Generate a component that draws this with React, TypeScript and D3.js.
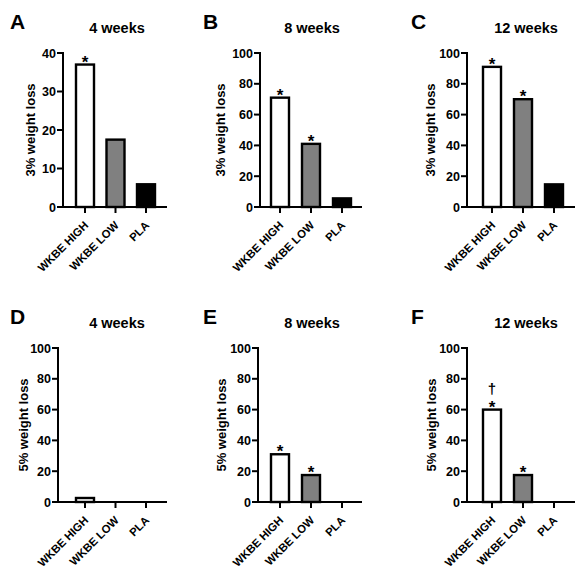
import * as d3 from "d3";

// Weight loss responder rates (%)
const categories = ["WKBE HIGH", "WKBE LOW", "PLA"];
const barFills = ["#ffffff", "#808080", "#000000"];

const loss3Week4 = [37, 17.5, 5.9];
const loss3Week8 = [71, 41, 5.6];
const loss3Week12 = [91, 70, 14.7];
const loss5Week4 = [2.6, 0, 0];
const loss5Week8 = [31, 17.5, 0];
const loss5Week12 = [60, 17.5, 0];

// significance marks per bar
const marks3Week4 = ["*", "", ""];
const marks3Week8 = ["*", "*", ""];
const marks3Week12 = ["*", "*", ""];
const marks5Week4 = ["", "", ""];
const marks5Week8 = ["*", "*", ""];
const marks5Week12 = ["†*", "*", ""];

const titles = ["4 weeks", "8 weeks", "12 weeks"];
const letters = ["A", "B", "C", "D", "E", "F"];
const yLabels = ["3% weight loss", "5% weight loss"];

const FONT = "'Liberation Sans', Arial, sans-serif";

interface Panel {
  letter: string;
  title: string;
  yLabel: string;
  values: number[];
  marks: string[];
  yMax: number;
  axisX: number;
  xEnd: number;
  tick0: number;
  tick2: number;
  yTop: number;
  yBottom: number;
  letterX: number;
  titleX: number;
  yLabelX: number;
}

const rows = [
  { top: 53, bottom: 207 },
  { top: 348, bottom: 502 },
];

const cols = [
  { tick0: 85, tick2: 146, xEnd: 167, letterX: 10, titleX: 117 },
  { tick0: 280, tick2: 342, xEnd: 362, letterX: 203, titleX: 312 },
  { tick0: 492, tick2: 554, xEnd: 575, letterX: 411, titleX: 526 },
];

const axisXs = [63, 260, 467, 58, 258, 467];
const yLabelXs = [32, 222, 432, 25, 223, 433];

const series = [loss3Week4, loss3Week8, loss3Week12, loss5Week4, loss5Week8, loss5Week12];
const marks = [marks3Week4, marks3Week8, marks3Week12, marks5Week4, marks5Week8, marks5Week12];
const yMaxes = [40, 100, 100, 100, 100, 100];

const panels: Panel[] = series.map((values, i) => {
  const r = rows[Math.floor(i / 3)];
  const c = cols[i % 3];
  return {
    letter: letters[i],
    title: titles[i % 3],
    yLabel: yLabels[Math.floor(i / 3)],
    values,
    marks: marks[i],
    yMax: yMaxes[i],
    axisX: axisXs[i],
    xEnd: c.xEnd,
    tick0: c.tick0,
    tick2: c.tick2,
    yTop: r.top,
    yBottom: r.bottom,
    letterX: c.letterX,
    titleX: c.titleX,
    yLabelX: yLabelXs[i],
  };
});

function BarPanel({ p }: { p: Panel }) {
  const x = d3.scalePoint<string>().domain(categories).range([p.tick0, p.tick2]);
  const y = d3.scaleLinear().domain([0, p.yMax]).range([p.yBottom, p.yTop]);
  const barW = 18;
  const ticks = y.ticks(5);

  return (
    <g fontFamily={FONT} fontWeight="bold">
      <text x={p.letterX} y={p.yTop - 24} fontSize={21} fill="#000">{p.letter}</text>
      <text x={p.titleX} y={p.yTop - 20} fontSize={14.5} textAnchor="middle" fill="#000">{p.title}</text>
      <text
        transform={`translate(${p.yLabelX},${(p.yTop + p.yBottom) / 2}) rotate(-90)`}
        textAnchor="middle"
        dominantBaseline="middle"
        fontSize={13}
        fill="#000"
      >
        {p.yLabel}
      </text>

      {/* bars */}
      {categories.map((cat, i) => {
        const v = p.values[i];
        if (v <= 0) return null;
        const top = y(v);
        return (
          <rect
            key={cat}
            x={(x(cat) as number) - barW / 2}
            y={top}
            width={barW}
            height={p.yBottom - top}
            fill={barFills[i]}
            stroke="#000"
            strokeWidth={2.4}
          />
        );
      })}

      {/* significance marks */}
      {categories.map((cat, i) => {
        const m = p.marks[i];
        if (!m) return null;
        const top = y(p.values[i]);
        const cx = x(cat) as number;
        const hasDagger = m.includes("†");
        return (
          <g key={`m-${cat}`}>
            <text x={cx} y={top + 3} fontSize={17} textAnchor="middle" fill="#000">*</text>
            {hasDagger && (
              <text x={cx} y={top - 16} fontSize={15} textAnchor="middle" fill="#000">†</text>
            )}
          </g>
        );
      })}

      {/* y axis */}
      <line x1={p.axisX} x2={p.axisX} y1={p.yTop - 1} y2={p.yBottom + 1} stroke="#000" strokeWidth={2} />
      {ticks.map((t) => (
        <g key={`yt-${t}`}>
          <line x1={p.axisX - 6} x2={p.axisX} y1={y(t)} y2={y(t)} stroke="#000" strokeWidth={2} />
          <text x={p.axisX - 7} y={y(t)} dy="0.36em" textAnchor="end" fontSize={12.5} fill="#000">{t}</text>
        </g>
      ))}

      {/* x axis */}
      <line x1={p.axisX - 1} x2={p.xEnd} y1={p.yBottom} y2={p.yBottom} stroke="#000" strokeWidth={2} />
      {categories.map((cat) => {
        const cx = x(cat) as number;
        return (
          <g key={`xt-${cat}`}>
            <line x1={cx} x2={cx} y1={p.yBottom} y2={p.yBottom + 6} stroke="#000" strokeWidth={2} />
            <text
              transform={`translate(${cx + 4},${p.yBottom + 19}) rotate(-45)`}
              textAnchor="end"
              fontSize={11.3}
              fill="#000"
            >
              {cat}
            </text>
          </g>
        );
      })}
    </g>
  );
}

export default function App() {
  return (
    <div style={{ position: "absolute", left: 0, top: 0 }}>
      <svg width={585} height={572} style={{ display: "block", background: "#fff" }}>
        {panels.map((p) => (
          <BarPanel key={p.letter} p={p} />
        ))}
      </svg>
    </div>
  );
}
